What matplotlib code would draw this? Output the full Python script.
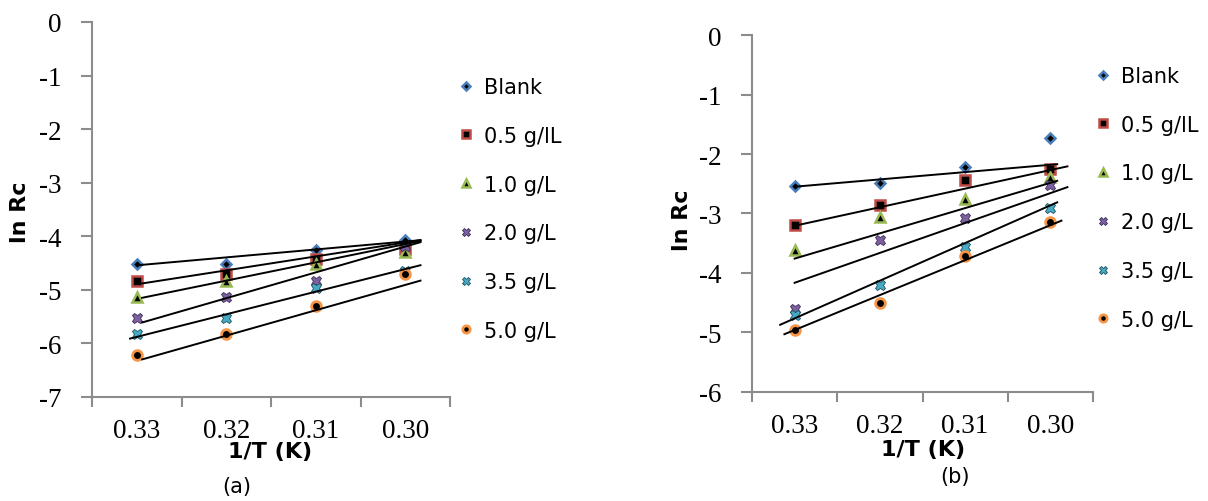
import matplotlib
matplotlib.use("Agg")
import matplotlib.pyplot as plt
import numpy as np

# 1/T categories (descending along the axis)
categories = ["0.33", "0.32", "0.31", "0.30"]
series_labels = ["Blank", "0.5 g/lL", "1.0 g/L", "2.0 g/L", "3.5 g/L", "5.0 g/L"]

# Panel (a): ln Rc values
a_blank = [-4.51, -4.51, -4.26, -4.07]
a_c05 = [-4.83, -4.71, -4.43, -4.23]
a_c10 = [-5.13, -4.83, -4.52, -4.29]
a_c20 = [-5.53, -5.13, -4.83, -4.18]
a_c35 = [-5.82, -5.53, -4.96, -4.65]
a_c50 = [-6.22, -5.82, -5.30, -4.71]

# Panel (b): ln Rc values
b_blank = [-2.54, -2.48, -2.22, -1.73]
b_c05 = [-3.20, -2.85, -2.44, -2.26]
b_c10 = [-3.62, -3.06, -2.76, -2.39]
b_c20 = [-4.61, -3.44, -3.07, -2.52]
b_c35 = [-4.71, -4.20, -3.57, -2.90]
b_c50 = [-4.96, -4.51, -3.71, -3.15]

# Linear trend lines (slope, intercept) against category index 1..4
a_trend_slope = [0.148, 0.260, 0.341, 0.482, 0.422, 0.473]
a_trend_intercept = [-4.69, -5.156, -5.51, -6.12, -6.30, -6.80]
b_trend_slope = [0.123, 0.3125, 0.425, 0.503, 0.634, 0.588]
b_trend_intercept = [-2.673, -3.52, -4.185, -4.67, -5.40, -5.55]

# extent of each trend line along the category axis
a_trend_span = [(1.0, 4.17), (1.06, 4.17), (1.06, 4.17), (1.06, 4.17), (0.925, 4.17), (1.06, 4.17)]
b_trend_span = [(1.0, 4.08), (1.0, 4.2), (1.0, 4.08), (1.0, 4.2), (0.83, 4.08), (0.88, 4.13)]

colors = ["#4A7EBB", "#BE4B48", "#98B954", "#7D60A0", "#46AAC5", "#F69545"]
marker_styles = [
    dict(marker="D", ms=5.5, mfc="black", mec=colors[0], mew=1.8),
    dict(marker="s", ms=7.0, mfc="black", mec=colors[1], mew=1.8),
    dict(marker="^", ms=7.5, mfc="black", mec=colors[2], mew=1.8),
    dict(marker="X", ms=7.5, mfc=colors[3], mec="#3a2a55", mew=0.6),
    dict(marker="X", ms=7.5, mfc=colors[4], mec="#1c4f5e", mew=0.6),
    dict(marker="o", ms=7.0, mfc="black", mec=colors[5], mew=2.0),
]

W, H = 1208, 502
fig = plt.figure(figsize=(W / 100, H / 100), dpi=100)

TICK_FAMILY = "Liberation Serif"
TICK_SIZE = 19.5
SPINE = "#8C8C8C"


def fx(px):
    return px / W


def fy(py):
    return 1 - py / H


def make_panel(rect, series, slopes, intercepts, spans, ylim, yticks, legend_xy):
    ax = fig.add_axes(rect)
    x = np.arange(1, len(categories) + 1)
    handles = []
    for vals, slope, icpt, span, lab, st in zip(series, slopes, intercepts, spans,
                                                 series_labels, marker_styles):
        (h,) = ax.plot(x, vals, linestyle="none", label=lab, zorder=3, **st)
        handles.append(h)
        xs = np.array(span)
        ax.plot(xs, slope * xs + icpt, color="black", lw=1.4, zorder=4)

    ax.set_xlim(0.5, len(categories) + 0.5)
    ax.set_ylim(*ylim)
    ax.set_yticks(yticks)
    ax.set_yticklabels([f"{t:g}" for t in yticks])
    ax.set_xticks(np.arange(0.5, len(categories) + 1.0, 1.0))
    ax.set_xticklabels([])
    ax.set_xticks(x, minor=True)
    ax.set_xticklabels(categories, minor=True)
    ax.tick_params(axis="both", which="both", labelsize=TICK_SIZE,
                   labelfontfamily=TICK_FAMILY)
    ax.tick_params(axis="x", which="minor", length=0, pad=15)
    ax.tick_params(axis="x", which="major", length=7, width=1.5, color=SPINE, direction="out")
    ax.tick_params(axis="y", length=8, width=1.5, color=SPINE, direction="out", pad=14)
    for s in ("top", "right"):
        ax.spines[s].set_visible(False)
    for s in ("left", "bottom"):
        ax.spines[s].set_color(SPINE)
        ax.spines[s].set_linewidth(1.5)

    fig.legend(handles=handles, loc="upper left",
               bbox_to_anchor=(fx(legend_xy[0]), fy(legend_xy[1])),
               frameon=False, handlelength=0.7, handletextpad=0.5,
               labelspacing=1.38, markerscale=0.75, borderaxespad=0,
               borderpad=0, prop=dict(family="DejaVu Sans", size=15))
    return ax


# panel (a)
make_panel([fx(92), fy(398), fx(450) - fx(92), fy(23) - fy(398)],
           [a_blank, a_c05, a_c10, a_c20, a_c35, a_c50],
           a_trend_slope, a_trend_intercept, a_trend_span,
           (-7, 0), list(range(0, -8, -1)), (459, 78))

# panel (b)
make_panel([fx(752), fy(392.7), fx(1093) - fx(752), fy(36.2) - fy(392.7)],
           [b_blank, b_c05, b_c10, b_c20, b_c35, b_c50],
           b_trend_slope, b_trend_intercept, b_trend_span,
           (-6, 0), list(range(0, -7, -1)), (1096, 67))

title_font = dict(family="DejaVu Sans", weight="bold", size=16)
fig.text(fx(20), fy(212), "ln Rc", rotation=90, ha="center", va="center", **title_font)
fig.text(fx(682), fy(220), "ln Rc", rotation=90, ha="center", va="center", **title_font)
fig.text(fx(270), fy(452), "1/T (K)", ha="center", va="center", **title_font)
fig.text(fx(923), fy(450), "1/T (K)", ha="center", va="center", **title_font)

cap_font = dict(family="DejaVu Sans", size=15)
fig.text(fx(237), fy(487), "(a)", ha="center", va="center", **cap_font)
fig.text(fx(955), fy(477), "(b)", ha="center", va="center", **cap_font)

fig.savefig("out.png", dpi=100)
